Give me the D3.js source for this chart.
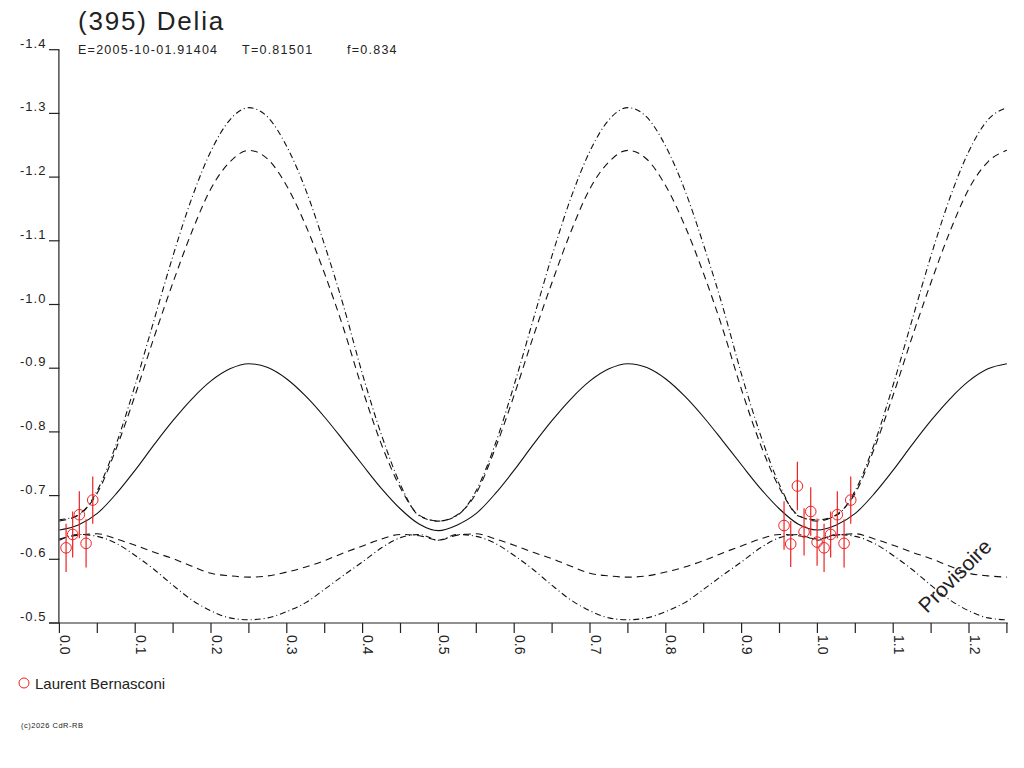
<!DOCTYPE html>
<html>
<head>
<meta charset="utf-8">
<script src="https://cdnjs.cloudflare.com/ajax/libs/d3/7.8.5/d3.min.js"></script>
<style>
body{margin:0;background:#fff;}
svg text{font-family:"Liberation Sans",Arial,sans-serif;fill:#222;}
</style>
</head>
<body>
<svg id="chart" width="1024" height="768"></svg>
<script>
// phase grid of the model curves : 0 .. 1.25 step 0.025
var curvePhase = d3.range(51).map(function(i){ return i * 0.025; });

// fitted lightcurve (solid)
var fitMag = [
	-0.646,-0.654,-0.672,-0.703,-0.740,-0.780,-0.818,-0.852,-0.880,-0.899,-0.907,-0.901,-0.883,-0.856,-0.823,-0.786,-0.748,-0.711,-0.679,-0.655,-0.645,
	-0.654,-0.672,-0.703,-0.740,-0.780,-0.818,-0.852,-0.880,-0.899,-0.907,-0.901,-0.883,-0.856,-0.823,-0.786,-0.748,-0.711,-0.679,-0.655,-0.646,
	-0.654,-0.672,-0.703,-0.740,-0.780,-0.818,-0.852,-0.880,-0.899,-0.907
];
// dashed envelope, bright side
var dashHigh = [
	-0.660,-0.670,-0.704,-0.774,-0.858,-0.949,-1.035,-1.115,-1.182,-1.224,-1.242,-1.228,-1.186,-1.124,-1.048,-0.962,-0.866,-0.780,-0.712,-0.669,-0.660,
	-0.670,-0.704,-0.774,-0.858,-0.949,-1.035,-1.115,-1.182,-1.224,-1.242,-1.228,-1.186,-1.124,-1.048,-0.962,-0.866,-0.780,-0.712,-0.669,-0.660,
	-0.670,-0.704,-0.774,-0.858,-0.949,-1.035,-1.115,-1.182,-1.224,-1.242
];
// dashed envelope, faint side
var dashLow = [
	-0.632,-0.638,-0.640,-0.632,-0.622,-0.611,-0.601,-0.589,-0.578,-0.574,-0.572,-0.574,-0.580,-0.588,-0.598,-0.610,-0.621,-0.632,-0.639,-0.637,-0.630,
	-0.638,-0.640,-0.632,-0.622,-0.611,-0.601,-0.589,-0.578,-0.574,-0.572,-0.574,-0.580,-0.588,-0.598,-0.610,-0.621,-0.632,-0.639,-0.637,-0.632,
	-0.638,-0.640,-0.632,-0.622,-0.611,-0.601,-0.589,-0.578,-0.574,-0.572
];
// dash-dot envelope, bright side
var dotHigh = [
	-0.662,-0.669,-0.708,-0.781,-0.874,-0.976,-1.077,-1.168,-1.241,-1.290,-1.309,-1.294,-1.248,-1.180,-1.093,-0.997,-0.890,-0.795,-0.717,-0.668,-0.660,
	-0.669,-0.708,-0.781,-0.874,-0.976,-1.077,-1.168,-1.241,-1.290,-1.309,-1.294,-1.248,-1.180,-1.093,-0.997,-0.890,-0.795,-0.717,-0.668,-0.662,
	-0.669,-0.708,-0.781,-0.874,-0.976,-1.077,-1.168,-1.241,-1.290,-1.309
];
// dash-dot envelope, faint side
var dotLow = [
	-0.630,-0.639,-0.636,-0.625,-0.606,-0.584,-0.559,-0.536,-0.519,-0.508,-0.505,-0.508,-0.518,-0.532,-0.553,-0.575,-0.596,-0.618,-0.634,-0.639,-0.630,
	-0.639,-0.636,-0.625,-0.606,-0.584,-0.559,-0.536,-0.519,-0.508,-0.505,-0.508,-0.518,-0.532,-0.553,-0.575,-0.596,-0.618,-0.634,-0.639,-0.630,
	-0.639,-0.636,-0.625,-0.606,-0.584,-0.559,-0.536,-0.519,-0.508,-0.505
];

// observations (Laurent Bernasconi)
var obsPhase = [0.9560,0.9648,0.9736,0.9824,0.9912,0.9996,0.0088,0.0175,0.0263,0.0352,0.0440];
var obsMag   = [-0.653,-0.624,-0.715,-0.643,-0.675,-0.627,-0.618,-0.639,-0.670,-0.625,-0.693];
var obsErr   = [0.038,0.036,0.038,0.037,0.038,0.037,0.038,0.036,0.037,0.038,0.037];

var yTicks = [-1.4,-1.3,-1.2,-1.1,-1.0,-0.9,-0.8,-0.7,-0.6,-0.5];
var yTickLabels = ["-1.4","-1.3","-1.2","-1.1","-1.0","-0.9","-0.8","-0.7","-0.6","-0.5"];
var xTicks = [0.0,0.1,0.2,0.3,0.4,0.5,0.6,0.7,0.8,0.9,1.0,1.1,1.2];
var xTickLabels = ["0.0","0.1","0.2","0.3","0.4","0.5","0.6","0.7","0.8","0.9","1.0","1.1","1.2"];
var xMinorTicks = d3.range(26).map(function(i){ return i * 0.05; });

var titleText = "(395) Delia";
var infoTexts = ["E=2005-10-01.91404", "T=0.81501", "f=0.834"];
var observerName = "Laurent Bernasconi";

var svg = d3.select("#chart");
var x = d3.scaleLinear().domain([0, 1.25]).range([59.4, 1006.9]);
var y = d3.scaleLinear().domain([-1.4, -0.5]).range([49.7, 623]);

// title
svg.append("text").attr("x", 78).attr("y", 30)
	.attr("font-size", 26).attr("letter-spacing", 1.8).text(titleText);
var infoX = [78, 242, 347];
infoTexts.forEach(function(t, i){
	svg.append("text").attr("x", infoX[i]).attr("y", 54)
		.attr("font-size", 12.5).attr("letter-spacing", 1.25).text(t);
});

// axes
var axisEl = svg.append("g").attr("stroke", "#222").attr("stroke-width", 1.2);
axisEl.append("line")
	.attr("x1", x(0) - 0.5).attr("x2", x(0) - 0.5)
	.attr("y1", y(-1.4)).attr("y2", y(-0.5));
axisEl.append("line")
	.attr("x1", 49).attr("x2", x(1.25) + 1)
	.attr("y1", y(-0.5)).attr("y2", y(-0.5));

axisEl.selectAll(".ytick").data(yTicks).enter().append("line")
	.attr("class", "ytick")
	.attr("x1", 49).attr("x2", x(0))
	.attr("y1", function(d){ return y(d); })
	.attr("y2", function(d){ return y(d); });
svg.selectAll(".ylab").data(yTicks).enter().append("text")
	.attr("class", "ylab")
	.attr("x", 20)
	.attr("y", function(d){ return y(d) - 2; })
	.attr("font-size", 13)
	.attr("letter-spacing", 1)
	.text(function(d, i){ return yTickLabels[i]; });

axisEl.selectAll(".xtick").data(xMinorTicks).enter().append("line")
	.attr("class", "xtick")
	.attr("x1", function(d){ return x(d); })
	.attr("x2", function(d){ return x(d); })
	.attr("y1", y(-0.5)).attr("y2", y(-0.5) + 10);
svg.selectAll(".xlab").data(xTicks).enter().append("text")
	.attr("class", "xlab")
	.attr("font-size", 14)
	.attr("transform", function(d){ return "translate(" + (x(d) + 0.5) + "," + (y(-0.5) + 12) + ") rotate(90)"; })
	.text(function(d, i){ return xTickLabels[i]; });

// model curves
var curves = [
	{ values: fitMag,   dash: null },
	{ values: dashHigh, dash: "7,5" },
	{ values: dashLow,  dash: "7,5" },
	{ values: dotHigh,  dash: "6,3,1,3" },
	{ values: dotLow,   dash: "6,3,1,3" }
];
var line = d3.line()
	.x(function(d, i){ return x(curvePhase[i]); })
	.y(function(d){ return y(d); })
	.curve(d3.curveMonotoneX);
svg.selectAll(".curve").data(curves).enter().append("path")
	.attr("class", "curve")
	.attr("d", function(c){ return line(c.values); })
	.attr("fill", "none")
	.attr("stroke", "#111")
	.attr("stroke-width", 1.1)
	.attr("stroke-dasharray", function(c){ return c.dash; });

// observations, phases below 0.25 are repeated one cycle later
var points = [];
obsPhase.forEach(function(p, i){
	points.push({ p: p, m: obsMag[i], e: obsErr[i] });
	if (p < 0.25) points.push({ p: p + 1, m: obsMag[i], e: obsErr[i] });
});
var obsEl = svg.append("g").attr("class", "obs");
obsEl.selectAll("line").data(points).enter().append("line")
	.attr("x1", function(d){ return x(d.p); })
	.attr("x2", function(d){ return x(d.p); })
	.attr("y1", function(d){ return y(d.m - d.e); })
	.attr("y2", function(d){ return y(d.m + d.e); })
	.attr("stroke", "#ee2222").attr("stroke-width", 1.2);
obsEl.selectAll("circle").data(points).enter().append("circle")
	.attr("cx", function(d){ return x(d.p); })
	.attr("cy", function(d){ return y(d.m); })
	.attr("r", 5.3)
	.attr("fill", "none")
	.attr("stroke", "#ee2222").attr("stroke-width", 1);

// watermark
svg.append("text")
	.attr("transform", "translate(927,614) rotate(-45)")
	.attr("font-size", 21)
	.text("Provisoire");

// legend
svg.append("circle").attr("cx", 24).attr("cy", 683).attr("r", 5)
	.attr("fill", "none").attr("stroke", "#ee2222").attr("stroke-width", 1);
svg.append("text").attr("x", 35).attr("y", 689)
	.attr("font-size", 15).text(observerName);

svg.append("text").attr("x", 21).attr("y", 728)
	.attr("font-size", 7.5).attr("letter-spacing", 0.5).text("(c)2026 CdR-RB");
</script>
</body>
</html>
